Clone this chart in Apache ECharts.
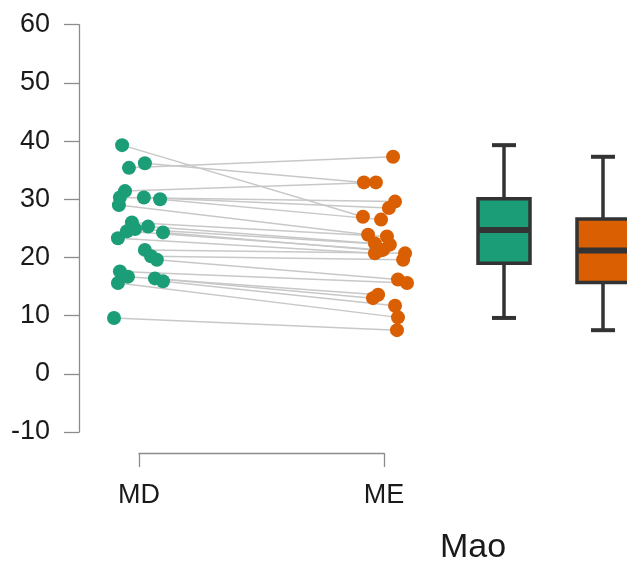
<!DOCTYPE html>
<html>
<head>
<meta charset="utf-8">
<script src="https://cdn.jsdelivr.net/npm/echarts@6/dist/echarts.min.js"></script>
<style>html,body{margin:0;padding:0;background:#fff}#c{width:627px;height:563px}</style>
</head>
<body>
<div id="c"></div>
<script>
// ---- data ----
const categories = ['MD', 'ME'];
const yTicks = [-10, 0, 10, 20, 30, 40, 50, 60];
const mdValues = [39.3, 36.2, 35.4, 31.4, 30.3, 30.3, 30.0, 29.0, 26.0, 25.3, 24.9, 24.5, 24.3, 23.3, 21.3, 20.2, 19.6, 17.6, 16.7, 16.4, 15.9, 15.6, 9.6];
const meValues = [27.0, 32.9, 37.3, 32.9, 29.6, 28.5, 26.5, 23.9, 23.6, 22.4, 22.2, 21.3, 21.2, 20.7, 20.7, 19.6, 16.2, 15.6, 13.6, 13.0, 11.7, 9.7, 7.5];
// horizontal jitter (fraction of the MD-ME gap)
const mdJitter = [-0.069, 0.024, -0.041, -0.057, -0.078, 0.020, 0.086, -0.082, -0.029, 0.037, -0.016, -0.049, 0.098, -0.086, 0.024, 0.049, 0.073, -0.078, -0.045, 0.065, 0.098, -0.086, -0.102];
const meJitter = [-0.086, -0.082, 0.037, -0.033, 0.045, 0.020, -0.012, -0.065, 0.012, -0.037, 0.024, -0.004, -0.016, -0.037, 0.086, 0.078, 0.057, 0.094, -0.024, -0.045, 0.045, 0.057, 0.053];
// box statistics: [min, Q1, median, Q3, max]
const mdBox = [9.6, 19.0, 24.7, 30.1, 39.3];
const meBox = [7.5, 15.7, 21.2, 26.6, 37.3];
const xTitle = 'Mao';

// ---- styles ----
const GREEN = '#1b9e77', ORANGE = '#d95f02';
const FONT = 'Liberation Sans, Arial, sans-serif';
const AXIS_COL = '#8c8c8c';
const TOP = 24.7, HEIGHT = 407.3;

const chart = echarts.init(document.getElementById('c'), null, {renderer: 'canvas'});

const series = [];
// connecting lines (drawn through the axes via api.coord)
series.push({
  type: 'custom', xAxisIndex: 1, yAxisIndex: 0, silent: true, clip: false, z: 1, animation: false,
  data: mdValues.map((v, i) => [0 + mdJitter[i], v, 1 + meJitter[i], meValues[i]]),
  encode: {x: [0, 2], y: [1, 3]},
  renderItem: function (params, api) {
    const a = api.coord([api.value(0), api.value(1)]);
    const b = api.coord([api.value(2), api.value(3)]);
    return {type: 'line', shape: {x1: a[0], y1: a[1], x2: b[0], y2: b[1]},
      style: {stroke: '#c8c8c8', lineWidth: 1.5}};
  }
});
series.push({
  type: 'scatter', xAxisIndex: 1, yAxisIndex: 0, clip: false, z: 3, animation: false,
  symbolSize: 14, itemStyle: {color: GREEN, opacity: 1},
  data: mdValues.map((v, i) => [0 + mdJitter[i], v])
});
series.push({
  type: 'scatter', xAxisIndex: 1, yAxisIndex: 0, clip: false, z: 3, animation: false,
  symbolSize: 14, itemStyle: {color: ORANGE, opacity: 1},
  data: meValues.map((v, i) => [1 + meJitter[i], v])
});
const boxColors = [GREEN, ORANGE];
series.push({
  type: 'custom', xAxisIndex: 2, yAxisIndex: 1, animation: false, clip: false,
  data: [[0].concat(mdBox), [1].concat(meBox)],
  encode: {x: 0, y: [1, 2, 3, 4, 5]},
  renderItem: function (params, api) {
    const c = api.value(0);
    const lo = api.coord([c, api.value(1)]);
    const q1 = api.coord([c, api.value(2)]);
    const md = api.coord([c, api.value(3)]);
    const q3 = api.coord([c, api.value(4)]);
    const hi = api.coord([c, api.value(5)]);
    const x = lo[0], bw = 52, cw = 24;
    const dark = '#333333';
    return {
      type: 'group',
      children: [
        {type: 'line', shape: {x1: x, y1: hi[1], x2: x, y2: q3[1]}, style: {stroke: dark, lineWidth: 3.5}},
        {type: 'line', shape: {x1: x, y1: q1[1], x2: x, y2: lo[1]}, style: {stroke: dark, lineWidth: 3.5}},
        {type: 'line', shape: {x1: x - cw / 2, y1: hi[1], x2: x + cw / 2, y2: hi[1]}, style: {stroke: dark, lineWidth: 4}},
        {type: 'line', shape: {x1: x - cw / 2, y1: lo[1], x2: x + cw / 2, y2: lo[1]}, style: {stroke: dark, lineWidth: 4}},
        {type: 'rect', shape: {x: x - bw / 2, y: q3[1], width: bw, height: q1[1] - q3[1]},
          style: {fill: boxColors[params.dataIndex], stroke: dark, lineWidth: 3.5}},
        {type: 'line', shape: {x1: x - bw / 2, y1: md[1], x2: x + bw / 2, y2: md[1]}, style: {stroke: dark, lineWidth: 6}}
      ]
    };
  }
});

chart.setOption({
  animation: false,
  backgroundColor: '#fff',
  grid: [
    {left: 139, width: 245, top: TOP, height: HEIGHT, containLabel: false, outerBoundsMode: 'none'},
    {left: 454.5, right: -25.5, top: TOP, height: HEIGHT, containLabel: false, outerBoundsMode: 'none'}
  ],
  xAxis: [
    {
      type: 'category', gridIndex: 0, data: categories, boundaryGap: false,
      position: 'bottom', offset: 21,
      axisLine: {show: true, onZero: false, lineStyle: {color: AXIS_COL, width: 1.3}},
      axisTick: {show: true, length: 14, lineStyle: {color: AXIS_COL, width: 1.3}},
      axisLabel: {show: true, margin: 29, fontSize: 27, color: '#1a1a1a', fontFamily: FONT},
      splitLine: {show: false}
    },
    {type: 'value', gridIndex: 0, min: 0, max: 1, show: false, position: 'top', splitLine: {show: false},
      axisLine: {onZero: false}},
    {type: 'category', gridIndex: 1, data: categories, show: false, axisLine: {onZero: false}}
  ],
  yAxis: [
    {
      type: 'value', gridIndex: 0, min: -10, max: 60, interval: 10,
      position: 'left', offset: 60,
      axisLine: {show: true, onZero: false, lineStyle: {color: AXIS_COL, width: 1.3}},
      axisTick: {show: true, length: 15, lineStyle: {color: AXIS_COL, width: 1.3}},
      axisLabel: {margin: 29, fontSize: 27, color: '#1a1a1a', fontFamily: FONT,
        customValues: yTicks},
      splitLine: {show: false}
    },
    {type: 'value', gridIndex: 1, min: -10, max: 60, interval: 10, show: false, splitLine: {show: false},
      axisLine: {onZero: false}}
  ],
  graphic: [{
    type: 'text', x: 440, y: 548,
    style: {text: xTitle, fontSize: 34, fontFamily: FONT, fill: '#1a1a1a', textAlign: 'left', textVerticalAlign: 'middle'}
  }],
  series: series
});
</script>
</body>
</html>
